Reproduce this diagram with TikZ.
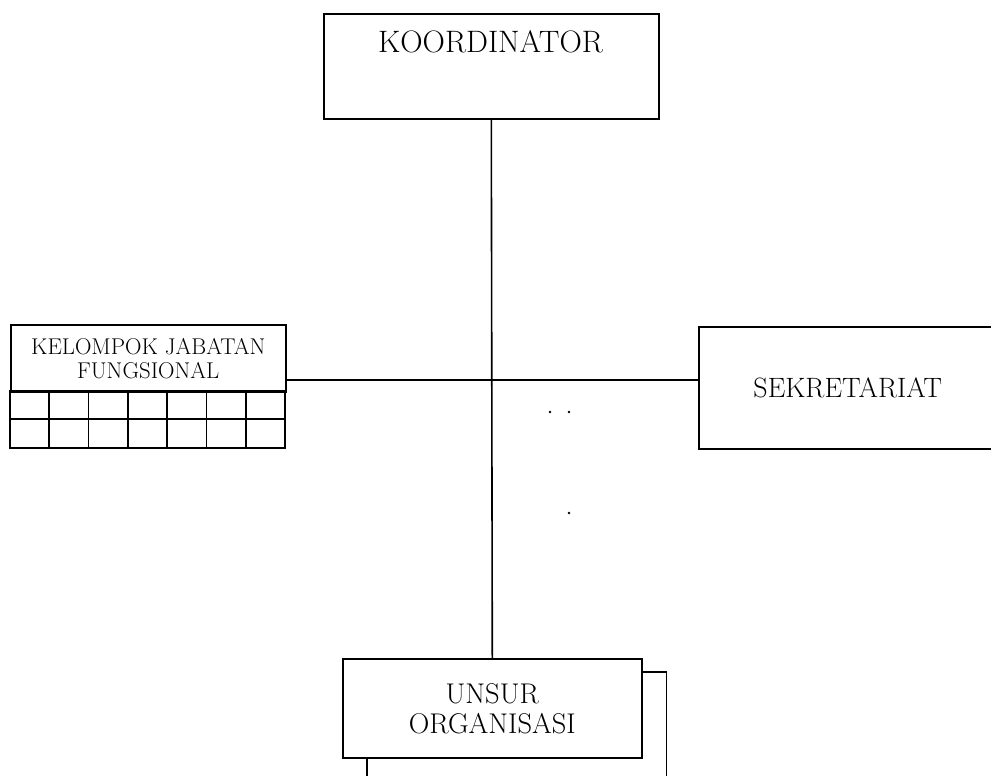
\documentclass[tikz,border=0pt]{standalone}
\begin{document}
\begin{tikzpicture}[x=1pt, y=-1pt, line width=1.6pt,
    box/.style={draw, rectangle, inner sep=0pt, anchor=north west, align=center}]
    \clip (0,0) rectangle (991,776);
    \node[box, minimum width=335, minimum height=105] (koor) at (323,13) {};
    \node[font=\fontsize{31}{36}\selectfont, anchor=base] (kootxt) at (490.5,53) {KOORDINATOR};
    \node[box, minimum width=275, minimum height=67, font=\fontsize{22.8}{24}\selectfont] (kel) at (10,324) {KELOMPOK JABATAN\\FUNGSIONAL};
    \draw (10,391) rectangle (285,448);
    \draw (10,419) -- (285,419);
    \foreach \i in {1,...,6}
        \draw ({10+\i*275/7},391) -- ({10+\i*275/7},448);
    \node[box, minimum width=298, minimum height=122, font=\fontsize{28}{32}\selectfont] (sek) at (698,326) {SEKRETARIAT};
    \node[box, minimum width=299, minimum height=99, font=\fontsize{28.5}{30}\selectfont] (unsur) at (342,658) {UNSUR\\ORGANISASI};
    \draw ([yshift=-14pt]unsur.north east) -- ++(24,0) -- ++(0,140);
    \draw ([xshift=25pt]unsur.south west) -- ++(0,40);
    \coordinate (join) at (490.5,380);
    \draw (koor.south) -- (unsur.north);
    \draw (kel.east |- join) -- (sek.west |- join);
    \fill (550,412) circle (1.3);
    \fill (569,412) circle (1.3);
    \fill (569,513) circle (1.3);
\end{tikzpicture}
\end{document}
